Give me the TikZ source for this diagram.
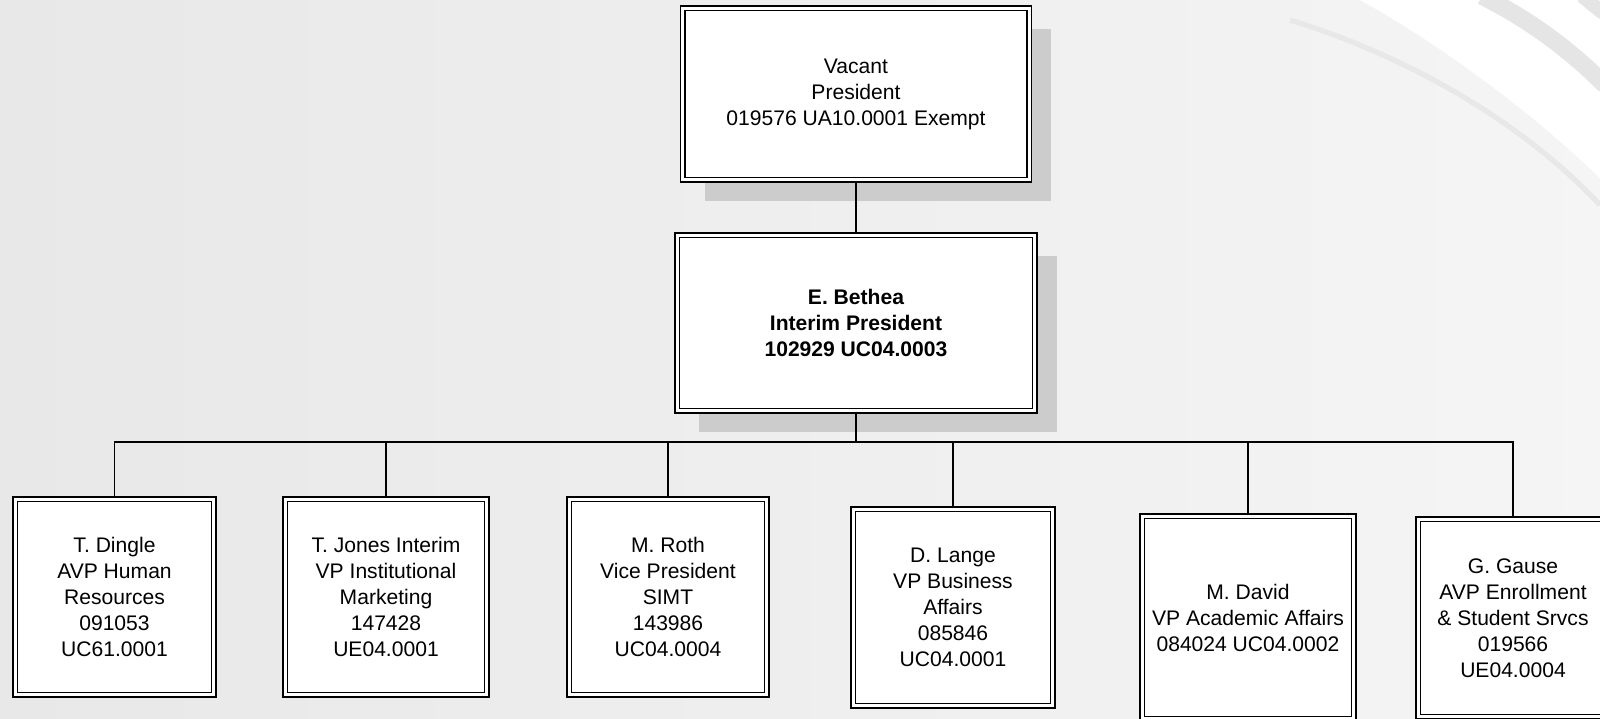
\documentclass[tikz,border=0pt]{standalone}
\usepackage{fontspec}
\setmainfont{Liberation Sans}
\usetikzlibrary{shadows}

\tikzset{
	post/.style={draw=black, line width=0.9pt, double=white, double distance=1.6pt,
		fill=white, align=center, inner sep=0pt, font=\fontsize{12}{14.8}\selectfont},
	shadowed/.style={drop shadow={shadow xshift=0.44cm, shadow yshift=-0.42cm, fill=black!20, opacity=1}},
	link/.style={draw=black, line width=0.9pt},
}

\begin{document}
\begin{tikzpicture}[x=0.02cm,y=-0.02cm]
			\useasboundingbox (0,0) rectangle (1600,718);
			\clip (0,0) rectangle (1600,718);

			% Draw the background
			\shade[left color=black!9, right color=black!4] (0,0) rectangle (1600,718);
			\fill[white] (1360,0) .. controls (1450,50) and (1540,120) .. (1600,178) -- (1600,0) -- cycle;
			\draw[black!9, line width=3pt] (1290,20) .. controls (1420,60) and (1530,130) .. (1600,205);
			\draw[black!10, line width=10pt] (1482,-4) .. controls (1530,20) and (1570,50) .. (1605,85);
			\draw[black!10, line width=8pt] (1582,-4) .. controls (1590,2) and (1596,8) .. (1605,14);

			% Top of the chart
			\node[post, shadowed, minimum width=6.93cm, minimum height=3.43cm] (pres) at (856,94)
				{Vacant\\President\\019576 UA10.0001 Exempt};
			\node[post, shadowed, minimum width=7.15cm, minimum height=3.51cm,
				font=\fontsize{12}{14.8}\selectfont\bfseries] (ipres) at (856,323)
				{E. Bethea\\Interim President\\102929 UC04.0003};

			% Direct reports
			\node[post, minimum width=3.97cm, minimum height=3.91cm] (hr) at (114.5,597)
				{T. Dingle\\AVP Human\\Resources\\091053\\UC61.0001};
			\node[post, minimum width=4.03cm, minimum height=3.91cm] (mkt) at (386,597)
				{T. Jones Interim\\VP Institutional\\Marketing\\147428\\UE04.0001};
			\node[post, minimum width=3.95cm, minimum height=3.91cm] (simt) at (668,597)
				{M. Roth\\Vice President\\SIMT\\143986\\UC04.0004};
			\node[post, minimum width=3.99cm, minimum height=3.93cm] (biz) at (953,607.5)
				{D. Lange\\VP Business\\Affairs\\085846\\UC04.0001};
			\node[post, minimum width=4.23cm, minimum height=4.05cm] (acad) at (1248,617.5)
				{M. David\\VP Academic Affairs\\084024 UC04.0002};
			\node[post, minimum width=3.79cm, minimum height=3.95cm] (enr) at (1513,618)
				{G. Gause\\AVP Enrollment\\\& Student Srvcs\\019566\\UE04.0004};

			% Connectors
			\coordinate (split) at (856,442);
			\draw[link] (pres.south) -- (ipres.north);
			\draw[link, line width=1.3pt] (ipres.south) -- (split);
			\foreach \n in {hr,mkt,simt,biz,acad,enr}
				\draw[link] (\n.north) |- (split);
		\end{tikzpicture}
\end{document}
